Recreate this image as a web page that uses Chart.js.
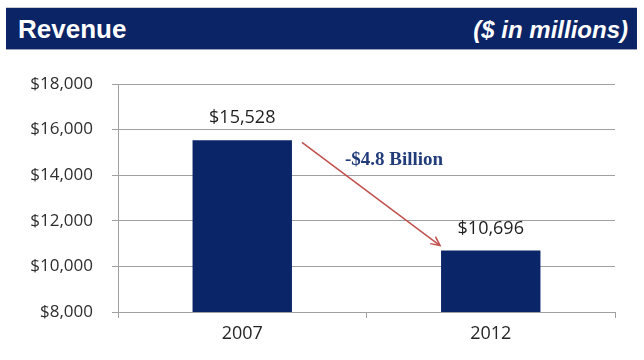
<!DOCTYPE html>
<html>
<head>
<meta charset="utf-8">
<script src="https://cdn.jsdelivr.net/npm/chart.js@4/dist/chart.umd.min.js"></script>
<style>
  body{margin:0;background:#fff;}
  #wrap{position:relative;width:644px;height:360px;}
  #header{position:absolute;left:6px;top:7px;width:631px;height:43px;background:#0b2466;
    border-top:1px solid #c8ccd6;border-bottom:1px solid #9aa3b8;box-sizing:border-box;}
  #header .title{position:absolute;left:12px;top:6px;color:#fff;font:bold 26px "Liberation Sans",Arial,sans-serif;}
  #header .unit{position:absolute;right:9px;top:8px;color:#fff;font:italic bold 24px "Liberation Sans",Arial,sans-serif;}
  canvas{position:absolute;left:0;top:0;}
</style>
</head>
<body>
<div id="wrap">
  <canvas id="revenueChart" width="644" height="360"></canvas>
  <div id="header"><span class="title">Revenue</span><span class="unit">($ in millions)</span></div>
</div>
<script>
const years=["2007","2012"];
const revenue=[15528,10696];
const yMin=8000, yMax=18000, yStep=2000;

const money=v=>"$"+v.toLocaleString("en-US");

// value labels over the bars plus the drop arrow between them
const barNotes={
    id:"barNotes",
    afterDatasetsDraw(chart){
        const ctx=chart.ctx;
        const bars=chart.getDatasetMeta(0).data;
        ctx.save();
        ctx.font='18px "Open Sans"';
        ctx.fillStyle="#1e1e1e";
        ctx.textAlign="center";
        ctx.textBaseline="middle";
        bars.forEach((b,i)=>{
            ctx.fillText(money(revenue[i]),b.x,b.y-22);
        });

        const a=bars[0], b=bars[1];
        const x0=a.x+a.width/2+10, y0=a.y+2;
        const x1=b.x-b.width/2-1, y1=b.y-5;
        ctx.strokeStyle="#c0504d";
        ctx.lineWidth=1.5;
        ctx.beginPath();
        ctx.moveTo(x0,y0);
        ctx.lineTo(x1,y1);
        ctx.stroke();
        const ang=Math.atan2(y1-y0,x1-x0);
        ctx.beginPath();
        ctx.moveTo(x1-10*Math.cos(ang-0.45),y1-10*Math.sin(ang-0.45));
        ctx.lineTo(x1,y1);
        ctx.lineTo(x1-10*Math.cos(ang+0.45),y1-10*Math.sin(ang+0.45));
        ctx.stroke();

        const diff=(revenue[1]-revenue[0])/1000;
        const label=(diff<0?"-":"")+"$"+Math.abs(diff).toFixed(1)+" Billion";
        ctx.font='bold 19px "Liberation Serif"';
        ctx.fillStyle="#233d7b";
        ctx.textAlign="left";
        ctx.fillText(label,x0+43,chart.scales.y.getPixelForValue(14650));
        ctx.restore();
    }
};

new Chart(document.getElementById("revenueChart"),{
    type:"bar",
    data:{
        labels:years,
        datasets:[{
            data:revenue,
            backgroundColor:"#0b2569",
            borderWidth:0,
            categoryPercentage:1,
            barPercentage:0.4
        }]
    },
    options:{
        responsive:false,
        animation:false,
        layout:{padding:{top:84,right:29,left:0,bottom:0}},
        plugins:{legend:{display:false},tooltip:{enabled:false}},
        scales:{
            x:{
                afterFit(s){s.height=48;},
                grid:{offset:true,drawOnChartArea:false,tickLength:6,color:"#a0a0a0"},
                border:{color:"#a0a0a0"},
                ticks:{color:"#262626",padding:5,font:{family:"Open Sans",size:18}}
            },
            y:{
                min:yMin,max:yMax,
                afterFit(s){s.width=118;},
                grid:{tickLength:6,color:"#a0a0a0"},
                border:{color:"#a0a0a0"},
                ticks:{stepSize:yStep,padding:19,color:"#2e2e2e",
                    font:{family:"Open Sans",size:17},
                    callback:v=>money(v)}
            }
        }
    },
    plugins:[barNotes]
});
</script>
</body>
</html>
